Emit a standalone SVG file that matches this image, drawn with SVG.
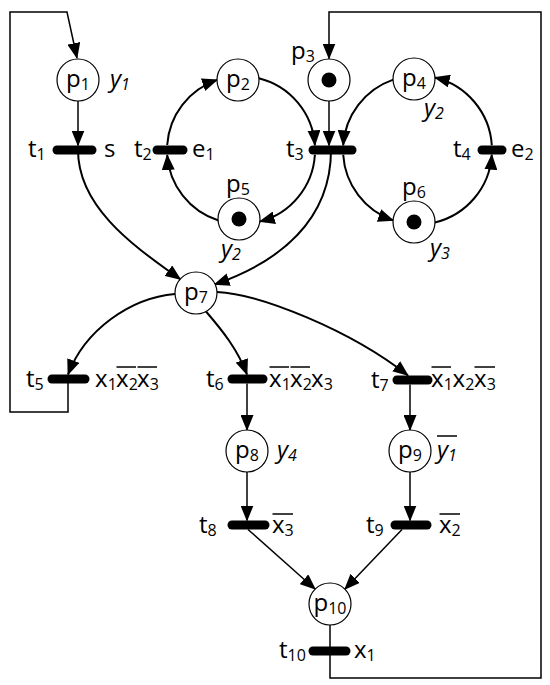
<svg xmlns="http://www.w3.org/2000/svg" width="550" height="685" viewBox="0 0 550 685">
<style>
.c{fill:none;stroke:#000;stroke-width:2}
.s{fill:none;stroke:#000;stroke-width:1.5}
.a{marker-end:url(#ah)}
.pl{fill:#fff;stroke:#000;stroke-width:1.2}
.tk{fill:#000}
.br{stroke:#000;stroke-width:9;stroke-linecap:round}
.ov{stroke:#000;stroke-width:1.5}
text{font-family:"Open Sans","Liberation Sans",sans-serif;font-size:24px;fill:#000}
.sb{font-size:16px}
.it{font-style:italic}
</style>
<defs>
<marker id="ah" markerUnits="userSpaceOnUse" markerWidth="16" markerHeight="13" refX="15" refY="6.5" orient="auto"><path d="M0,0 L16,6.5 L0,13 z" fill="#000"/></marker>
</defs>
<rect width="550" height="685" fill="#fff"/>
<g id="connectors">
<path class="s a" d="M68,383 V412 H10 V12 H67 L77,58"/>
<path class="s a" d="M330,625 V678 H541 V12 H329 V58.5"/>
<path class="s a" d="M78,101 V145.5"/>
<path class="c a" d="M78,150 C78,210 140,250 180.5,279.5"/>
<path class="c a" d="M218.5,220.5 A74,74 0 0 1 167.2,155"/>
<path class="c a" d="M167.2,145 A74,74 0 0 1 217.2,79.9"/>
<path class="c a" d="M258.8,78.2 A74,74 0 0 1 314.9,145.3"/>
<path class="c a" d="M314.9,154.7 A74,74 0 0 1 259.8,221.6"/>
<path class="s a" d="M329,101 V145.5"/>
<path class="c a" d="M393.3,79.6 A74.5,74.5 0 0 0 343.2,145.3"/>
<path class="c a" d="M343.2,154.7 A74.5,74.5 0 0 0 393.2,220.4"/>
<path class="c a" d="M434.8,222.5 A74.5,74.5 0 0 0 491.8,154.7"/>
<path class="c a" d="M491.8,145.3 A74.5,74.5 0 0 0 434.8,77.5"/>
<path class="c a" d="M331,150 C331,220 280,262 214.5,284.5"/>
<path class="c a" d="M175,294 C130,298 85,330 68,374.5"/>
<path class="c a" d="M206,311.5 C222,330 238,350 247,374.5"/>
<path class="c a" d="M217,292 C260,294 350,330 408,375.5"/>
<path class="s a" d="M247,383.5 V430"/>
<path class="s a" d="M410,384.5 V430"/>
<path class="s a" d="M247,472 V520.5"/>
<path class="s a" d="M410,472 V520.5"/>
<path class="s a" d="M248,529.5 L315.2,589.2"/>
<path class="s a" d="M402,529.5 L344.8,589.2"/>
</g>
<g id="p1"><circle class="pl" cx="78" cy="80" r="21"/><text x="78" y="87" text-anchor="middle">p<tspan class="sb" dy="3">1</tspan></text><text class="it" x="110" y="87">y<tspan class="sb" dy="3">1</tspan></text></g>
<g id="p2"><circle class="pl" cx="238" cy="80" r="21"/><text x="238" y="87" text-anchor="middle">p<tspan class="sb" dy="3">2</tspan></text></g>
<g id="p3"><circle class="pl" cx="329" cy="80" r="21"/><circle class="tk" cx="329" cy="80" r="7.5"/><text x="291" y="59">p<tspan class="sb" dy="3">3</tspan></text></g>
<g id="p4"><circle class="pl" cx="414" cy="79" r="21"/><text x="414" y="86" text-anchor="middle">p<tspan class="sb" dy="3">4</tspan></text><text class="it" x="424" y="116">y<tspan class="sb" dy="3">2</tspan></text></g>
<g id="p5"><circle class="pl" cx="239" cy="219" r="21"/><circle class="tk" cx="239" cy="219" r="7.5"/><text x="226" y="192">p<tspan class="sb" dy="3">5</tspan></text><text class="it" x="221" y="257">y<tspan class="sb" dy="3">2</tspan></text></g>
<g id="p6"><circle class="pl" cx="414" cy="222" r="21"/><circle class="tk" cx="414" cy="222" r="7.5"/><text x="402" y="195">p<tspan class="sb" dy="3">6</tspan></text><text class="it" x="430" y="256">y<tspan class="sb" dy="3">3</tspan></text></g>
<g id="p7"><circle class="pl" cx="196" cy="293" r="21"/><text x="196" y="300" text-anchor="middle">p<tspan class="sb" dy="3">7</tspan></text></g>
<g id="p8"><circle class="pl" cx="247" cy="451" r="21"/><text x="247" y="458" text-anchor="middle">p<tspan class="sb" dy="3">8</tspan></text><text class="it" x="277" y="458">y<tspan class="sb" dy="3">4</tspan></text></g>
<g id="p9"><circle class="pl" cx="410" cy="451" r="21"/><text x="410" y="458" text-anchor="middle">p<tspan class="sb" dy="3">9</tspan></text><text class="it" x="437" y="458">y<tspan class="sb" dy="3">1</tspan></text><line class="ov" x1="437" y1="436" x2="457" y2="436"/></g>
<g id="p10"><circle class="pl" cx="330" cy="604" r="21"/><text x="330" y="611" text-anchor="middle">p<tspan class="sb" dy="3">10</tspan></text></g>
<g id="t1"><line class="br" x1="57" y1="150" x2="92" y2="150"/><text x="28" y="157">t<tspan class="sb" dy="3">1</tspan></text><text x="104" y="157">s</text></g>
<g id="t2"><line class="br" x1="157" y1="150" x2="183" y2="150"/><text x="134" y="157">t<tspan class="sb" dy="3">2</tspan></text><text x="192" y="157">e<tspan class="sb" dy="3">1</tspan></text></g>
<g id="t3"><line class="br" x1="313" y1="150" x2="352" y2="150"/><text x="286" y="157">t<tspan class="sb" dy="3">3</tspan></text></g>
<g id="t4"><line class="br" x1="482" y1="150" x2="502" y2="150"/><text x="453" y="157">t<tspan class="sb" dy="3">4</tspan></text><text x="511" y="157">e<tspan class="sb" dy="3">2</tspan></text></g>
<g id="t5"><line class="br" x1="52" y1="379" x2="85" y2="379"/><text x="26" y="387">t<tspan class="sb" dy="3">5</tspan></text>
<text><tspan x="95" y="387">x</tspan><tspan class="sb" x="107.7" y="390">1</tspan><tspan x="116" y="387">x</tspan><tspan class="sb" x="128.7" y="390">2</tspan><tspan x="137" y="387">x</tspan><tspan class="sb" x="149.7" y="390">3</tspan></text>
<line class="ov" x1="116.5" y1="367" x2="136" y2="367"/><line class="ov" x1="137.5" y1="367" x2="157" y2="367"/></g>
<g id="t6"><line class="br" x1="232" y1="379" x2="263" y2="379"/><text x="206" y="387">t<tspan class="sb" dy="3">6</tspan></text>
<text><tspan x="269" y="387">x</tspan><tspan class="sb" x="281.7" y="390">1</tspan><tspan x="290" y="387">x</tspan><tspan class="sb" x="302.7" y="390">2</tspan><tspan x="311" y="387">x</tspan><tspan class="sb" x="323.7" y="390">3</tspan></text>
<line class="ov" x1="269.5" y1="367" x2="289" y2="367"/><line class="ov" x1="290.5" y1="367" x2="310" y2="367"/></g>
<g id="t7"><line class="br" x1="397" y1="380" x2="428" y2="380"/><text x="371" y="388">t<tspan class="sb" dy="3">7</tspan></text>
<text><tspan x="431" y="387">x</tspan><tspan class="sb" x="443.7" y="390">1</tspan><tspan x="452.5" y="387">x</tspan><tspan class="sb" x="465.2" y="390">2</tspan><tspan x="474" y="387">x</tspan><tspan class="sb" x="486.7" y="390">3</tspan></text>
<line class="ov" x1="431.5" y1="367" x2="451" y2="367"/><line class="ov" x1="474.5" y1="367" x2="495" y2="367"/></g>
<g id="t8"><line class="br" x1="232" y1="525" x2="265" y2="525"/><text x="199" y="533">t<tspan class="sb" dy="3">8</tspan></text><text x="272" y="533">x<tspan class="sb" dy="3">3</tspan></text><line class="ov" x1="272.5" y1="514" x2="293" y2="514"/></g>
<g id="t9"><line class="br" x1="395" y1="525" x2="427" y2="525"/><text x="366" y="533">t<tspan class="sb" dy="3">9</tspan></text><text x="439" y="533">x<tspan class="sb" dy="3">2</tspan></text><line class="ov" x1="439.5" y1="514" x2="460" y2="514"/></g>
<g id="t10"><line class="br" x1="313" y1="651" x2="346" y2="651"/><text x="279" y="658">t<tspan class="sb" dy="3">10</tspan></text><text x="354" y="658">x<tspan class="sb" dy="3">1</tspan></text></g>
</svg>
